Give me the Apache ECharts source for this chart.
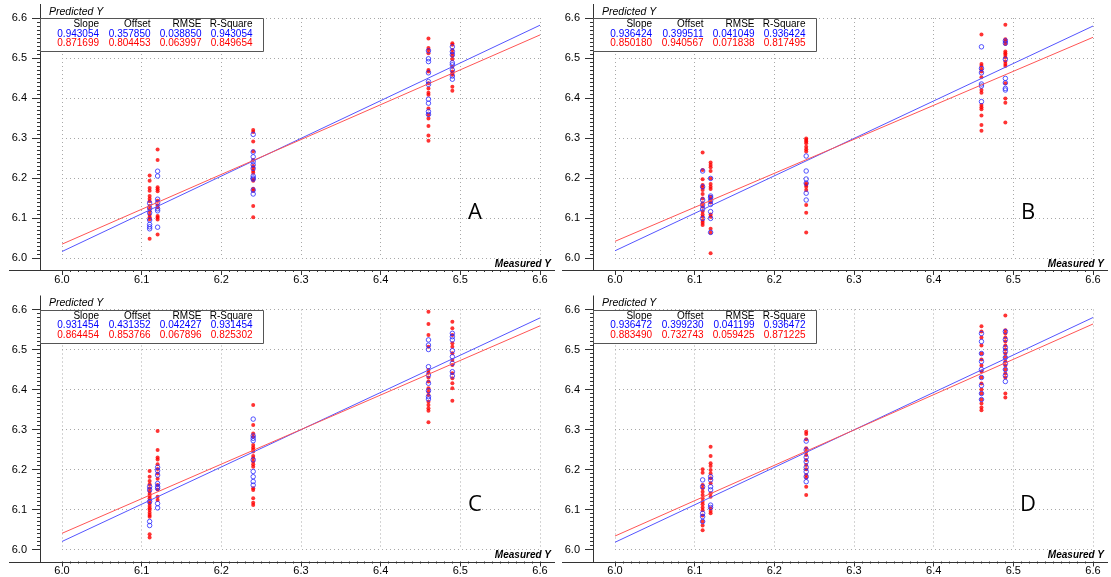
<!DOCTYPE html>
<html><head><meta charset="utf-8">
<script src="https://cdn.jsdelivr.net/npm/echarts@6/dist/echarts.min.js"></script>
<style>html,body{margin:0;padding:0;background:#fff}#c{width:1111px;height:577px}</style>
</head><body><div id="c"></div>
<script>
// ---------- DATA ----------
const xLevels = [6.11, 6.12, 6.24, 6.46, 6.49];
const panelNames = ['A', 'B', 'C', 'D'];
const tableHeaders = ['Slope', 'Offset', 'RMSE', 'R-Square'];
const xAxisName = 'Measured Y';
const yAxisName = 'Predicted Y';

const slopeBlue  = ['0.943054', '0.936424', '0.931454', '0.936472'];
const offsetBlue = ['0.357850', '0.399511', '0.431352', '0.399230'];
const rmseBlue   = ['0.038850', '0.041049', '0.042427', '0.041199'];
const rsqBlue    = ['0.943054', '0.936424', '0.931454', '0.936472'];
const slopeRed   = ['0.871699', '0.850180', '0.864454', '0.883490'];
const offsetRed  = ['0.804453', '0.940567', '0.853766', '0.732743'];
const rmseRed    = ['0.063997', '0.071838', '0.067896', '0.059425'];
const rsqRed     = ['0.849654', '0.817495', '0.825302', '0.871225'];

// predicted values per measured level (same order as xLevels)
const redA = [
  [6.206,6.193,6.175,6.168,6.155,6.148,6.142,6.130,6.122,6.117,6.108,6.102,6.097,6.048],
  [6.271,6.245,6.177,6.172,6.167,6.143,6.132,6.127,6.105,6.101,6.096,6.059],
  [6.320,6.315,6.291,6.267,6.245,6.230,6.225,6.218,6.213,6.197,6.193,6.173,6.168,6.130,6.102],
  [6.549,6.525,6.520,6.512,6.470,6.466,6.437,6.424,6.413,6.408,6.374,6.358,6.349,6.330,6.306,6.293],
  [6.537,6.533,6.520,6.512,6.505,6.497,6.478,6.466,6.462,6.458,6.428,6.418]
];
const blueA = [
  [6.137,6.125,6.113,6.095,6.084,6.078,6.073],
  [6.217,6.205,6.147,6.138,6.123,6.118,6.077],
  [6.309,6.265,6.253,6.241,6.233,6.224,6.205,6.200,6.197,6.170,6.160],
  [6.518,6.498,6.491,6.463,6.441,6.434,6.397,6.387,6.366,6.359],
  [6.528,6.516,6.508,6.488,6.483,6.470,6.455,6.447]
];
const redB = [
  [6.264,6.220,6.197,6.1825,6.177,6.170,6.160,6.149,6.137,6.128,6.116,6.109,6.103,6.093,6.088,6.0825],
  [6.239,6.2325,6.227,6.2175,6.199,6.185,6.178,6.1725,6.153,6.147,6.139,6.109,6.103,6.073,6.063,6.012],
  [6.299,6.295,6.291,6.287,6.278,6.272,6.266,6.187,6.1825,6.178,6.170,6.1325,6.113,6.064],
  [6.559,6.485,6.480,6.472,6.466,6.452,6.420,6.413,6.3825,6.377,6.372,6.356,6.3325,6.318],
  [6.583,6.547,6.541,6.535,6.516,6.512,6.5075,6.502,6.491,6.485,6.480,6.437,6.399,6.388,6.339]
];
const blueB = [
  [6.2175,6.178,6.145,6.1325,6.1225,6.099],
  [6.199,6.155,6.151,6.143,6.134,6.116,6.099,6.064],
  [6.255,6.2175,6.1975,6.187,6.162,6.145],
  [6.528,6.474,6.463,6.435,6.430,6.391],
  [6.543,6.537,6.497,6.449,6.438,6.424,6.420]
];
const redC = [
  [6.196,6.182,6.171,6.163,6.153,6.145,6.139,6.134,6.128,6.121,6.115,6.109,6.103,6.099,6.092,6.086,6.082,6.038,6.030],
  [6.296,6.249,6.230,6.225,6.213,6.201,6.190,6.177,6.161,6.150,6.132,6.124],
  [6.361,6.311,6.290,6.282,6.261,6.255,6.250,6.245,6.234,6.228,6.220,6.213,6.207,6.153,6.149,6.128,6.117,6.111],
  [6.5945,6.564,6.536,6.507,6.449,6.442,6.430,6.420,6.403,6.3945,6.386,6.3695,6.361,6.353,6.347,6.318],
  [6.5695,6.553,6.536,6.5155,6.507,6.4905,6.474,6.461,6.4405,6.428,6.4155,6.403,6.372]
];
const blueC = [
  [6.157,6.149,6.120,6.070,6.060],
  [6.2055,6.197,6.186,6.165,6.157,6.153,6.115,6.104],
  [6.326,6.284,6.278,6.272,6.224,6.195,6.182,6.170,6.161],
  [6.524,6.511,6.500,6.457,6.436,6.4155,6.397,6.382,6.376],
  [6.5405,6.532,6.524,6.497,6.482,6.4655,6.4445,6.434]
];
const redD = [
  [6.2005,6.192,6.161,6.153,6.1445,6.136,6.128,6.1195,6.113,6.105,6.098,6.085,6.070,6.060,6.048],
  [6.257,6.234,6.2155,6.209,6.199,6.190,6.178,6.1655,6.1405,6.132,6.103,6.096,6.0905],
  [6.2945,6.289,6.2755,6.253,6.2445,6.236,6.224,6.211,6.2005,6.186,6.1795,6.157,6.136],
  [6.558,6.545,6.530,6.510,6.490,6.475,6.460,6.445,6.430,6.415,6.400,6.390,6.375,6.365,6.355,6.348],
  [6.585,6.548,6.540,6.530,6.520,6.510,6.500,6.490,6.480,6.470,6.460,6.450,6.440,6.430,6.390,6.380]
];
const blueD = [
  [6.174,6.157,6.0905,6.082,6.070],
  [6.182,6.174,6.157,6.149,6.111,6.105],
  [6.271,6.249,6.2305,6.2195,6.2055,6.1945,6.182,6.1695],
  [6.540,6.520,6.490,6.470,6.450,6.430,6.410,6.390,6.375],
  [6.545,6.525,6.505,6.495,6.480,6.465,6.450,6.435,6.420]
];
const axisMin = 6.0, axisMax = 6.6, axisStep = 0.1;

// ---------- LAYOUT ----------
const redSets = [redA, redB, redC, redD];
const blueSets = [blueA, blueB, blueC, blueD];
const panels = [{x0:62, y0:258}, {x0:615, y0:258}, {x0:62, y0:549.5}, {x0:615, y0:549.5}];
const W = 478, H = 240;
const FONT = 'Liberation Sans, Arial, sans-serif';
const RED = '#ff0000', BLUE = '#0000ff';

function toPoints(sets) {
  const out = [];
  sets.forEach((col, i) => col.forEach(v => out.push([xLevels[i], v])));
  return out;
}
function fitLine(s, o) {
  const a = parseFloat(s), b = parseFloat(o);
  return [[axisMin, a * axisMin + b], [axisMax, a * axisMax + b]];
}

const grid = [], xAxis = [], yAxis = [], series = [], graphic = [];
const dotted = {color: '#a8a8a8', width: 1, type: [1, 3]};

panels.forEach((p, i) => {
  grid.push({left: p.x0, top: p.y0 - H, width: W, height: H, containLabel: false, outerBoundsMode: 'none'});
  xAxis.push({
    type: 'value', gridIndex: i, min: axisMin, max: axisMax, interval: axisStep, offset: 12,
    axisLine: {show: false},
    axisTick: {show: true, length: 5, lineStyle: {color: '#333'}},
    minorTick: {show: true, splitNumber: 10, length: 2, lineStyle: {color: '#333'}},
    axisLabel: {formatter: v => v.toFixed(1), color: '#000', fontSize: 11, fontFamily: FONT, margin: 4},
    splitLine: {show: true, lineStyle: dotted}
  });
  yAxis.push({
    type: 'value', gridIndex: i, min: axisMin, max: axisMax, interval: axisStep, offset: 22,
    axisLine: {show: false},
    axisTick: {show: true, length: 8, lineStyle: {color: '#333'}},
    minorTick: {show: true, splitNumber: 10, length: 3, lineStyle: {color: '#333'}},
    axisLabel: {formatter: v => v.toFixed(1), color: '#000', fontSize: 11, fontFamily: FONT, margin: 13},
    splitLine: {show: true, lineStyle: dotted}
  });
  series.push({
    type: 'scatter', xAxisIndex: i, yAxisIndex: i, data: toPoints(redSets[i]),
    symbol: 'circle', symbolSize: 4, itemStyle: {color: RED}, silent: true
  });
  series.push({
    type: 'scatter', xAxisIndex: i, yAxisIndex: i, data: toPoints(blueSets[i]),
    symbol: 'circle', symbolSize: 4.5,
    itemStyle: {color: 'rgba(0,0,0,0)', borderColor: '#2a2aff', borderWidth: 1}, silent: true
  });
  series.push({
    type: 'line', xAxisIndex: i, yAxisIndex: i, data: fitLine(slopeBlue[i], offsetBlue[i]),
    symbol: 'none', lineStyle: {color: '#5555ff', width: 1}, silent: true, z: 3
  });
  series.push({
    type: 'line', xAxisIndex: i, yAxisIndex: i, data: fitLine(slopeRed[i], offsetRed[i]),
    symbol: 'none', lineStyle: {color: '#ff5555', width: 1}, silent: true, z: 3
  });

  const ax = p.x0 - 22 + 0.5, ay = Math.round(p.y0 + 12) + 0.5, top = p.y0 - H;
  // axis lines
  graphic.push({type: 'line', shape: {x1: ax, y1: top - 14, x2: ax, y2: ay}, style: {stroke: '#333', lineWidth: 1}, z: 10});
  graphic.push({type: 'line', shape: {x1: p.x0 - 53, y1: ay, x2: p.x0 + 493, y2: ay}, style: {stroke: '#333', lineWidth: 1}, z: 10});
  // stats box
  graphic.push({type: 'rect', shape: {x: ax, y: Math.round(top) + 0.5, width: 223, height: 33},
    style: {fill: '#fff', stroke: '#555', lineWidth: 1}, z: 10});
  const colX = [37, 88.5, 139.5, 190.5];
  const rows = [
    {vals: tableHeaders, color: '#000', dy: 6.5},
    {vals: [slopeBlue[i], offsetBlue[i], rmseBlue[i], rsqBlue[i]], color: BLUE, dy: 16},
    {vals: [slopeRed[i], offsetRed[i], rmseRed[i], rsqRed[i]], color: RED, dy: 25.5}
  ];
  rows.forEach(r => r.vals.forEach((t, k) => {
    graphic.push({type: 'text', x: p.x0 + colX[k], y: top + r.dy, z: 11,
      style: {text: t, fill: r.color, font: '10px ' + FONT, align: 'right', verticalAlign: 'middle'}});
  }));
  // axis names
  graphic.push({type: 'text', x: p.x0 - 13, y: top - 6, z: 11,
    style: {text: yAxisName, fill: '#000', font: 'italic 10.5px ' + FONT, align: 'left', verticalAlign: 'middle'}});
  graphic.push({type: 'text', x: p.x0 + 489, y: p.y0 + 6, z: 11,
    style: {text: xAxisName, fill: '#000', font: 'italic bold 10px ' + FONT, align: 'right', verticalAlign: 'middle'}});
  // panel letter
  graphic.push({type: 'text', x: p.x0 + 413, y: p.y0 - 45, z: 11,
    style: {text: panelNames[i], fill: '#000', font: '22px Open Sans, ' + FONT, align: 'center', verticalAlign: 'middle'}});
});

const chart = echarts.init(document.getElementById('c'), null, {renderer: 'canvas'});
chart.setOption({animation: false, backgroundColor: '#fff', grid, xAxis, yAxis, series, graphic});
</script>
</body></html>
